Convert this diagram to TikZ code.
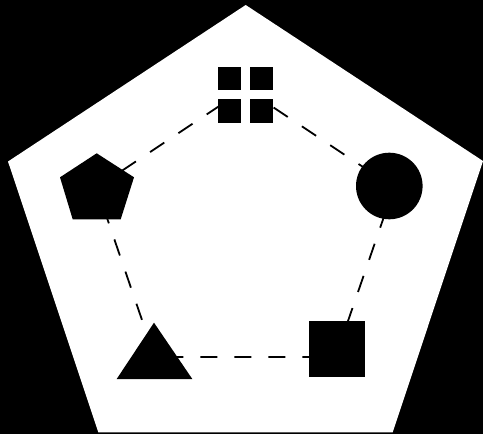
\documentclass[tikz,border=0pt]{standalone}
\begin{document}
\begin{tikzpicture}[x=1pt,y=-1pt,
  ring/.style={draw=black,line width=1.8pt,dash pattern=on 17pt off 17pt},
  solid shape/.style={fill=black,draw=none}]
\fill[black] (0,0) rectangle (483,434);
\useasboundingbox (0,0) rectangle (483,434);
% outer white pentagon
\fill[white] (245.7,5) -- (483,161) -- (392.7,432.3) -- (98.3,432.3) -- (8,161.5) -- cycle;
% ring coordinates
\coordinate (vtop) at (245.3,88.7);
\coordinate (vright) at (394,187.6);
\coordinate (vbr) at (335.6,357);
\coordinate (vbl) at (154.7,357);
\coordinate (vleft) at (96.6,187.6);
\draw[ring] (vtop) -- (vright) -- (vbr) -- (vbl) -- (vleft) -- cycle;
% four squares (white block hides the ring inside the group)
\fill[white] (217.7,66.7) rectangle (273.3,122.7);
\fill[solid shape] (217.7,66.7) rectangle (240.7,90);
\fill[solid shape] (250,66.7) rectangle (273.3,90);
\fill[solid shape] (217.7,99.3) rectangle (240.7,122.7);
\fill[solid shape] (250,99.3) rectangle (273.3,122.7);
% circle
\fill[solid shape] (389.3,186) circle[radius=33.3];
% square
\fill[solid shape] (309,320.7) rectangle (365,376.7);
% triangle
\fill[solid shape] (154,322.7) -- (192.3,379) -- (116.7,379) -- cycle;
% pentagon
\fill[solid shape] (96.7,153.3) -- (134,177.3) -- (120.7,219.3) -- (72.7,219.3) -- (60,177.3) -- cycle;
\end{tikzpicture}
\end{document}
